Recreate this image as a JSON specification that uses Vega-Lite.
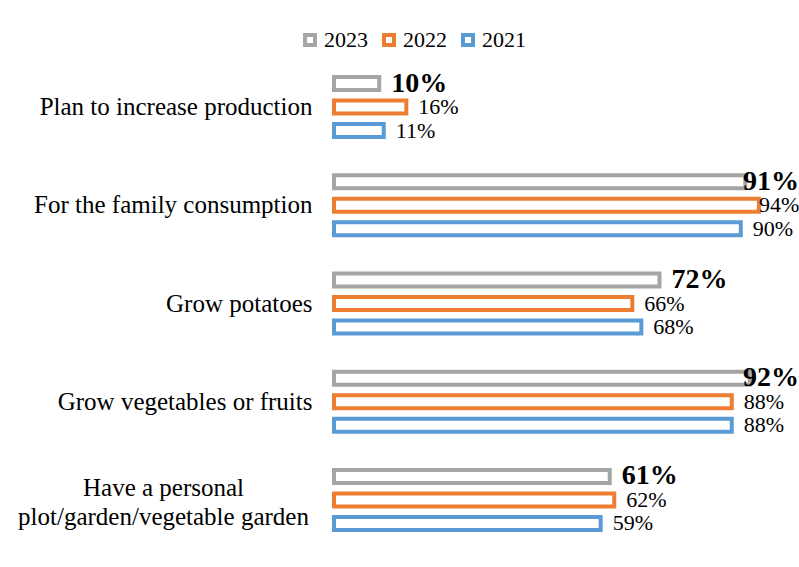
{
  "$schema": "https://vega.github.io/schema/vega-lite/v6.json",
  "autosize": {"type": "none"},
  "padding": {"left": 334, "top": 58, "right": 13, "bottom": 18},
  "width": 452,
  "height": 491,
  "background": "white",
  "config": {"view": {"stroke": null}, "font": "Liberation Serif"},
  "data": {
    "values": [
      {"category": "Plan to increase production", "year": "2023", "value": 0.10},
      {"category": "Plan to increase production", "year": "2022", "value": 0.16},
      {"category": "Plan to increase production", "year": "2021", "value": 0.11},
      {"category": "For the family consumption", "year": "2023", "value": 0.91},
      {"category": "For the family consumption", "year": "2022", "value": 0.94},
      {"category": "For the family consumption", "year": "2021", "value": 0.90},
      {"category": "Grow potatoes", "year": "2023", "value": 0.72},
      {"category": "Grow potatoes", "year": "2022", "value": 0.66},
      {"category": "Grow potatoes", "year": "2021", "value": 0.68},
      {"category": "Grow vegetables or fruits", "year": "2023", "value": 0.92},
      {"category": "Grow vegetables or fruits", "year": "2022", "value": 0.88},
      {"category": "Grow vegetables or fruits", "year": "2021", "value": 0.88},
      {"category": "Have a personal plot/garden/vegetable garden", "year": "2023", "value": 0.61},
      {"category": "Have a personal plot/garden/vegetable garden", "year": "2022", "value": 0.62},
      {"category": "Have a personal plot/garden/vegetable garden", "year": "2021", "value": 0.59}
    ]
  },
  "encoding": {
    "y": {
      "field": "category",
      "type": "nominal",
      "sort": ["Plan to increase production", "For the family consumption", "Grow potatoes", "Grow vegetables or fruits", "Have a personal plot/garden/vegetable garden"],
      "scale": {"paddingInner": 0, "paddingOuter": 0},
      "axis": {
        "title": null,
        "ticks": false,
        "domain": false,
        "labelFont": "Liberation Serif",
        "labelFontSize": 25,
        "labelColor": "black",
        "labelLimit": 0,
        "labelLineHeight": 29,
        "labelAlign": {"condition": {"test": "datum.value == 'Have a personal plot/garden/vegetable garden'", "value": "center"}, "value": "right"},
        "labelPadding": {"condition": {"test": "datum.value == 'Have a personal plot/garden/vegetable garden'", "value": 171}, "value": 22},
        "labelOffset": {"condition": {"test": "datum.value == 'Have a personal plot/garden/vegetable garden'", "value": -12}, "value": 0},
        "labelExpr": "datum.value == 'Have a personal plot/garden/vegetable garden' ? ['Have a personal', 'plot/garden/vegetable garden'] : datum.value"
      }
    },
    "yOffset": {
      "field": "year",
      "type": "nominal",
      "sort": ["2023", "2022", "2021"],
      "scale": {"paddingInner": 0.447, "paddingOuter": 0.813}
    },
    "x": {
      "field": "value",
      "type": "quantitative",
      "scale": {"domain": [0, 1]},
      "axis": null
    }
  },
  "layer": [
    {
      "mark": {"type": "bar", "fill": "white", "strokeWidth": 4},
      "encoding": {
        "stroke": {
          "field": "year",
          "type": "nominal",
          "sort": ["2023", "2022", "2021"],
          "scale": {"domain": ["2023", "2022", "2021"], "range": ["#a5a5a5", "#ed7d31", "#5b9bd5"]},
          "legend": {
            "orient": "none",
            "legendX": -35,
            "legendY": -29,
            "direction": "horizontal",
            "title": null,
            "symbolType": "square",
            "symbolFillColor": "white",
            "symbolStrokeWidth": 4,
            "symbolSize": 100,
            "labelFont": "Liberation Serif",
            "labelFontSize": 22,
            "labelColor": "black",
            "labelOffset": 3,
            "columnPadding": 8,
            "padding": 0
          }
        }
      }
    },
    {
      "transform": [{"filter": "datum.year == '2023'"}],
      "mark": {
        "type": "text",
        "align": "left",
        "baseline": "middle",
        "fontWeight": "bold",
        "fontSize": 28,
        "color": "black",
        "font": "Liberation Serif",
        "dx": {"expr": "min(12, width + 13 - scale('x', datum.value) - 56)"}
      },
      "encoding": {"text": {"field": "value", "type": "quantitative", "format": ".0%"}}
    },
    {
      "transform": [{"filter": "datum.year != '2023'"}],
      "mark": {
        "type": "text",
        "align": "left",
        "baseline": "middle",
        "fontSize": 22,
        "color": "black",
        "font": "Liberation Serif",
        "dx": {"expr": "min(12, width + 13 - scale('x', datum.value) - 40)"}
      },
      "encoding": {"text": {"field": "value", "type": "quantitative", "format": ".0%"}}
    }
  ]
}
